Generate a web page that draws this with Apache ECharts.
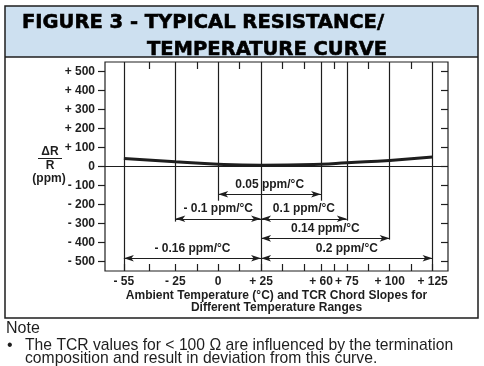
<!DOCTYPE html>
<html>
<head>
<meta charset="utf-8">
<script src="https://cdn.jsdelivr.net/npm/echarts@6/dist/echarts.min.js"></script>
<style>
html,body{margin:0;padding:0;background:#fff;}
#chart{width:484px;height:366px;}
</style>
</head>
<body>
<div id="chart"></div>
<script>
// ---- data ----
const temps = [-55, -25, 0, 25, 60, 75, 100, 125];          // °C
const deltaR = [42, 25, 12, 7, 12, 20, 32, 50];             // ppm (curve)
const xLabelValues = [-55, -25, 0, 25, 60, 75, 100, 125];
const xMinorTicks = [-40, -12.5, 12.5, 37.5, 50, 67.5, 87.5, 112.5];
const yTicks = [-500, -400, -300, -200, -100, 0, 100, 200, 300, 400, 500];
const chordFrom = [0, -25, 25, 25, -55, 25];
const chordTo = [60, 25, 75, 100, 25, 125];
const chordLabels = ['0.05 ppm/°C', '- 0.1 ppm/°C', '0.1 ppm/°C', '0.14 ppm/°C', '- 0.16 ppm/°C', '0.2 ppm/°C'];

// ---- layout (in axis units) ----
const chordLevel = [-146, -275, -275, -378, -483, -483];
const guideBottom = [-550, -290, -180, -550, -180, -285, -385, -550];
const Y_MIN = -550, Y_MAX = 550, X_MIN = -66, X_MAX = 134;

const ink = '#1e1e1e';
const fmtSigned = v => v > 0 ? '+ ' + v : (v < 0 ? '- ' + Math.abs(v) : '0');

const curveData = temps.map((t, i) => [t, deltaR[i]]);
const guideLines = temps.map((t, i) => [{coord: [t, Y_MAX]}, {coord: [t, guideBottom[i]]}]);
const chordLines = chordFrom.map((f, i) => [
  {coord: [f, chordLevel[i]], name: chordLabels[i]},
  {coord: [chordTo[i], chordLevel[i]]}
]);

const chart = echarts.init(document.getElementById('chart'), null, {renderer: 'canvas'});
const baseFont = {fontFamily: 'Liberation Sans', fontWeight: 'bold', fontSize: 12, color: ink};
const noLine = {show: false, onZero: false};

chart.setOption({
  animation: false,
  backgroundColor: '#fff',
  grid: {left: 105, right: 36, top: 62, bottom: 95, show: true, borderColor: ink, borderWidth: 1.2, backgroundColor: 'transparent'},
  xAxis: [{
    type: 'value', position: 'bottom', min: X_MIN, max: X_MAX,
    axisLine: noLine,
    splitLine: {show: false},
    axisTick: {show: true, inside: true, length: 7, lineStyle: {color: ink, width: 1.2},
      customValues: xLabelValues.concat(xMinorTicks)},
    axisLabel: Object.assign({customValues: xLabelValues, formatter: fmtSigned, margin: 5}, baseFont),
    name: 'Ambient Temperature (°C) and TCR Chord Slopes for\nDifferent Temperature Ranges',
    nameLocation: 'middle', nameGap: 18, nameMoveOverlap: false,
    nameTextStyle: Object.assign({lineHeight: 12.5, align: 'center'}, baseFont)
  }, {
    type: 'value', position: 'top', min: X_MIN, max: X_MAX,
    axisLine: noLine, splitLine: {show: false},
    axisTick: {show: true, inside: true, length: 7, lineStyle: {color: ink, width: 1.2}, customValues: xMinorTicks},
    axisLabel: {show: false}
  }],
  yAxis: [{
    type: 'value', position: 'left', min: Y_MIN, max: Y_MAX,
    axisLine: noLine, splitLine: {show: false},
    axisTick: {show: true, inside: false, length: 7, lineStyle: {color: ink, width: 1.2}, customValues: yTicks},
    axisLabel: Object.assign({customValues: yTicks, formatter: fmtSigned, margin: 10}, baseFont)
  }, {
    type: 'value', position: 'right', min: Y_MIN, max: Y_MAX,
    axisLine: noLine, splitLine: {show: false},
    axisTick: {show: true, inside: true, length: 7, lineStyle: {color: ink, width: 1.2}, customValues: yTicks},
    axisLabel: {show: false}
  }],
  series: [{
    type: 'line', name: 'curve', data: curveData, smooth: true, showSymbol: false, silent: true,
    lineStyle: {color: ink, width: 3}, z: 5,
    markLine: {
      silent: true, symbol: ['none', 'none'],
      lineStyle: {color: ink, width: 1.2, type: 'solid'},
      label: {show: false},
      data: guideLines.concat([[{coord: [X_MIN, 0]}, {coord: [X_MAX, 0]}]])
    }
  }, {
    type: 'line', name: 'chords', data: curveData, showSymbol: false, silent: true,
    lineStyle: {opacity: 0}, z: 4,
    markLine: {
      silent: true, symbol: ['arrow', 'arrow'], symbolSize: [5, 10],
      lineStyle: {color: ink, width: 1.2, type: 'solid'},
      label: Object.assign({show: true, position: 'middle', formatter: '{b}', distance: 4}, baseFont),
      data: chordLines
    }
  }],
  graphic: [
    {type: 'rect', z: -10, shape: {x: 5, y: 6, width: 473, height: 51}, style: {fill: '#cde0f0'}},
    {type: 'rect', shape: {x: 5, y: 6, width: 473, height: 312}, style: {fill: 'none', stroke: ink, lineWidth: 1.5}},
    {type: 'line', shape: {x1: 5, y1: 57, x2: 478, y2: 57}, style: {stroke: ink, lineWidth: 1.5}},
    {type: 'text', x: 22, y: 23, style: {text: 'FIGURE 3 - TYPICAL RESISTANCE/', font: 'bold 19.5px "DejaVu Sans"', fill: '#000', verticalAlign: 'middle', stroke: '#000', lineWidth: 0.6}},
    {type: 'text', x: 147, y: 49.5, style: {text: 'TEMPERATURE CURVE', font: 'bold 19.5px "DejaVu Sans"', fill: '#000', verticalAlign: 'middle', stroke: '#000', lineWidth: 0.6}},
    {type: 'text', x: 50, y: 152, style: {text: 'ΔR', font: 'bold 12px "Liberation Sans"', fill: ink, align: 'center', verticalAlign: 'middle'}},
    {type: 'line', shape: {x1: 38, y1: 158.5, x2: 62, y2: 158.5}, style: {stroke: ink, lineWidth: 1}},
    {type: 'text', x: 50, y: 166, style: {text: 'R', font: 'bold 12px "Liberation Sans"', fill: ink, align: 'center', verticalAlign: 'middle'}},
    {type: 'text', x: 49, y: 179, style: {text: '(ppm)', font: 'bold 12px "Liberation Sans"', fill: ink, align: 'center', verticalAlign: 'middle'}},
    {type: 'text', x: 6, y: 329, style: {text: 'Note', font: '16px "Liberation Sans"', fill: ink, verticalAlign: 'middle'}},
    {type: 'text', x: 7, y: 346, style: {text: '•', font: '16px "Liberation Sans"', fill: ink, verticalAlign: 'middle'}},
    {type: 'text', x: 25, y: 346, style: {text: 'The TCR values for < 100 Ω are influenced by the termination', font: '15.7px "Liberation Sans"', fill: ink, verticalAlign: 'middle'}},
    {type: 'text', x: 25, y: 359, style: {text: 'composition and result in deviation from this curve.', font: '15.7px "Liberation Sans"', fill: ink, verticalAlign: 'middle'}}
  ]
});
</script>
</body>
</html>
